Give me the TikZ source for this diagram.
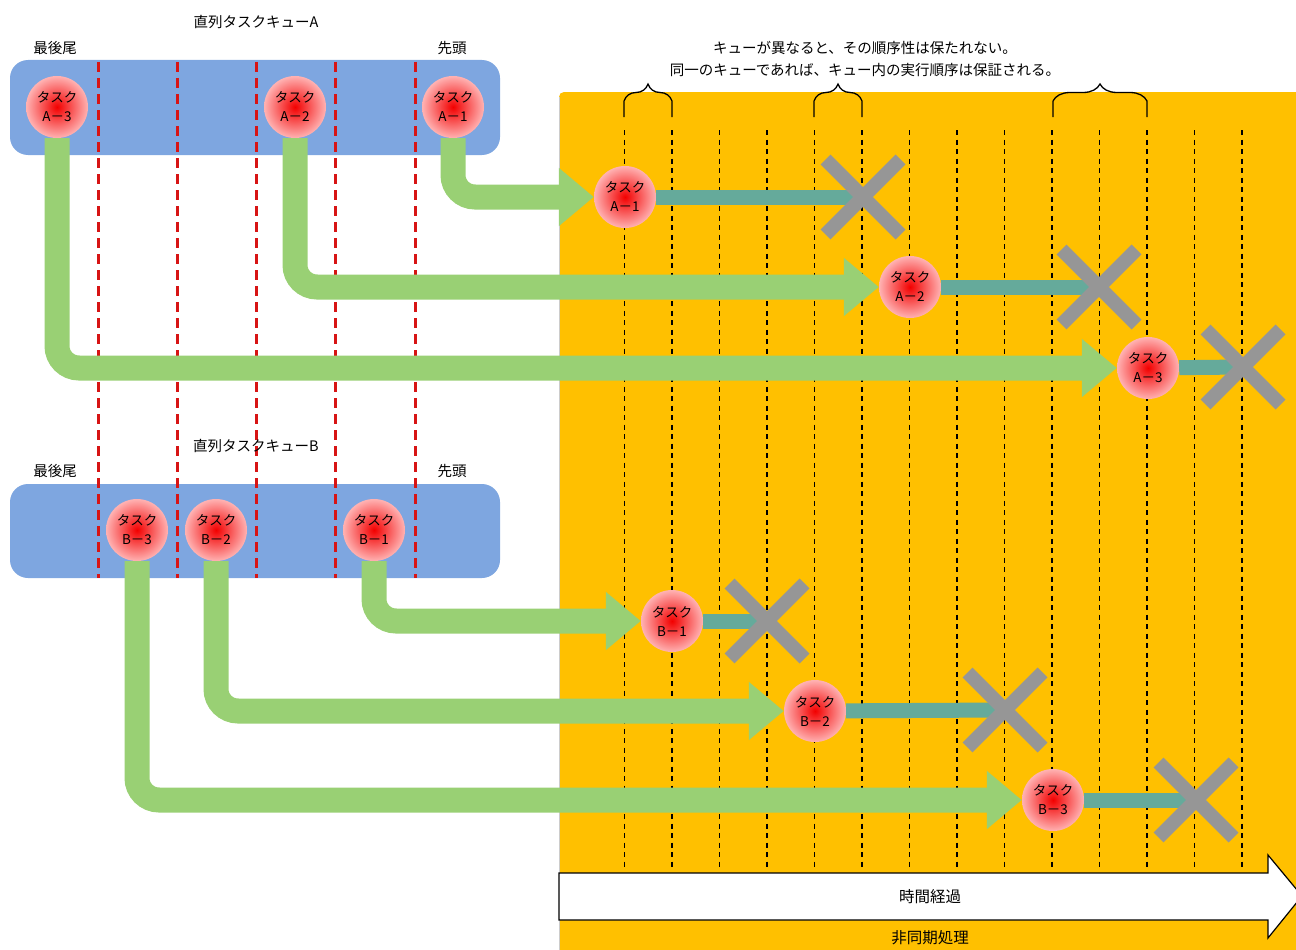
\documentclass[tikz,border=0pt]{standalone}
\usepackage{fontspec}
\setmainfont{Noto Sans CJK JP}
\usetikzlibrary{arrows.meta,decorations.pathreplacing,shapes.misc}

\definecolor{queueblue}{RGB}{126,166,224}
\definecolor{asyncorange}{RGB}{255,192,0}
\definecolor{flowgreen}{RGB}{153,208,116}
\definecolor{runteal}{RGB}{101,170,155}
\definecolor{stopgray}{RGB}{150,150,150}
\definecolor{sepred}{RGB}{215,20,20}

\pgfdeclarelayer{back}
\pgfdeclarelayer{flow}
\pgfsetlayers{back,flow,main}

\tikzset{
  task/.style={circle, minimum size=62pt, inner sep=0pt, inner color=red!95!black, outer color=red!30!white, align=center, font=\fontsize{13.5}{19}\selectfont},
  txt/.style={font=\fontsize{14.5}{22}\selectfont},
  queue/.style={fill=queueblue, rounded corners=18pt},
  sep/.style={sepred, line width=3pt, dash pattern=on 10pt off 6pt},
  tick/.style={black, line width=1.2pt, dash pattern=on 5pt off 4.5pt},
  flowarrow/.style={flowgreen, line width=25pt, rounded corners=22pt, -{Triangle[width=56pt,length=35pt]}},
  runbar/.style={runteal, line width=15pt},
  stop/.style={cross out, draw=stopgray, line width=14pt, minimum size=75pt, inner sep=0pt, outer sep=0pt}
}

\begin{document}
\begin{tikzpicture}[x=1pt,y=-1pt]
\useasboundingbox (0,0) rectangle (1296,950);
\begin{pgfonlayer}{back}
\fill[asyncorange] (559,951) [rounded corners=5pt] -- (559,92) [sharp corners] -- (1297,92) -- (1297,951) -- cycle;
\draw[black!20] (559,951) -- (559,97);
\fill[queue] (10,60) rectangle (500,155);
\fill[queue] (10,484) rectangle (500,578);
\foreach \x in {98,177,256,335,415} % queue slots
\draw[sep] (\x,62) -- (\x,578);
\foreach \x in {0,...,13} % time steps
\draw[tick] ({624.5+47.5*\x},130) -- ({624.5+47.5*\x},870);
\end{pgfonlayer}

% queue labels
\node[txt] (titleA) at (256,22) {直列タスクキューA};
\node[txt] (tailA) at (55,48) {最後尾};
\node[txt] (headA) at (452,48) {先頭};
\node[txt] (titleB) at (256,446) {直列タスクキューB};
\node[txt] (tailB) at (55,471) {最後尾};
\node[txt] (headB) at (452,471) {先頭};
\node[txt, align=center] (note) at (865,59) {キューが異なると、その順序性は保たれない。\\同一のキューであれば、キュー内の実行順序は保証される。};

\foreach \a/\b in {624/672, 814/862, 1053/1147} % braces
\draw[line width=1.3pt] (\a,117) -- (\a,101) decorate[decoration={brace,amplitude=17pt}] {-- (\b,101)} -- (\b,117);

% tasks waiting in the queues
\node[task] (ta3) at (57,107) {タスク\\A－3};
\node[task] (ta2) at (295,107) {タスク\\A－2};
\node[task] (ta1) at (453,107) {タスク\\A－1};
\node[task] (tb3) at (137,530) {タスク\\B－3};
\node[task] (tb2) at (216,530) {タスク\\B－2};
\node[task] (tb1) at (374,530) {タスク\\B－1};

% tasks running
\node[task] (ra1) at (625,197) {タスク\\A－1};
\node[task] (ra2) at (910,287) {タスク\\A－2};
\node[task] (ra3) at (1148,368) {タスク\\A－3};
\node[task] (rb1) at (672,621) {タスク\\B－1};
\node[task] (rb2) at (815,711) {タスク\\B－2};
\node[task] (rb3) at (1053,800) {タスク\\B－3};

% end of each task
\node[stop] (xa1) at (863,197) {};
\node[stop] (xa2) at (1099,287) {};
\node[stop] (xa3) at (1243,367) {};
\node[stop] (xb1) at (767,621) {};
\node[stop] (xb2) at (1005,710) {};
\node[stop] (xb3) at (1196,800) {};

\begin{pgfonlayer}{flow}
\foreach \q/\r in {ta1/ra1, ta2/ra2, ta3/ra3, tb1/rb1, tb2/rb2, tb3/rb3}
\draw[flowarrow] (\q) |- (\r);
\foreach \r/\x in {ra1/xa1, ra2/xa2, ra3/xa3, rb1/xb1, rb2/xb2, rb3/xb3}
\draw[runbar] (\r) -- (\x.center);
\end{pgfonlayer}

% time axis
\draw[fill=white, line width=1.2pt] (559,873) -- (1268,873) -- (1268,855) -- (1302,896) -- (1268,938) -- (1268,920) -- (559,920) -- cycle;
\node[txt, font=\fontsize{15.5}{18}\selectfont] (elapsed) at (930,897) {時間経過};
\node[txt, font=\fontsize{15.5}{18}\selectfont] (async) at (930,938) {非同期処理};
\end{tikzpicture}
\end{document}
